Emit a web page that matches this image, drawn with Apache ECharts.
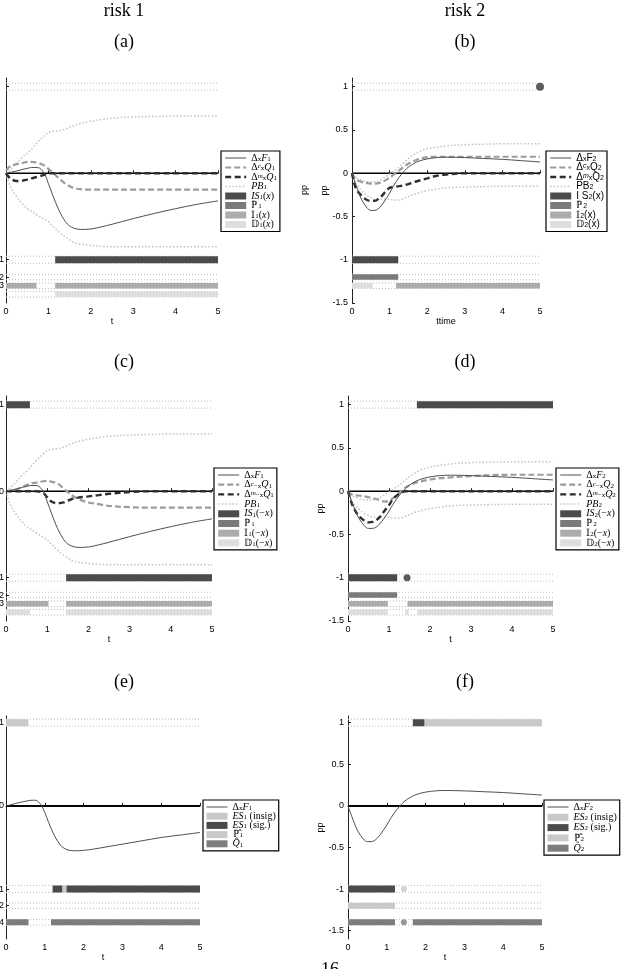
<!DOCTYPE html>
<html>
<head>
<meta charset="utf-8">
<script src="https://cdn.jsdelivr.net/npm/echarts@6/dist/echarts.min.js"></script>
<style>
  html, body { margin: 0; padding: 0; background: #fff; }
  #main { width: 629px; height: 969px; }
</style>
</head>
<body>
<div id="main"></div>
<script>
// ---- time grid shared by every response curve
const T = [0, 0.1, 0.25, 0.4, 0.5, 0.6, 0.75, 0.9, 1, 1.1, 1.25, 1.4, 1.5, 1.6, 1.75, 2, 2.25, 2.5, 3, 3.5, 4, 4.5, 5];

// risk 1 curves
const F1     = [0, 0.01, 0.025, 0.045, 0.055, 0.066, 0.065, 0.0, -0.12, -0.25, -0.43, -0.56, -0.61, -0.635, -0.65, -0.645, -0.62, -0.59, -0.525, -0.465, -0.41, -0.36, -0.32];
const F1_E   = [0, 0.01, 0.03, 0.045, 0.055, 0.065, 0.068, 0.015, -0.08, -0.2, -0.36, -0.47, -0.51, -0.53, -0.54, -0.535, -0.52, -0.5, -0.46, -0.42, -0.38, -0.35, -0.32];
const Q1C_A  = [0.03, 0.08, 0.105, 0.12, 0.13, 0.13, 0.12, 0.09, 0.05, 0.01, -0.06, -0.12, -0.15, -0.17, -0.185, -0.19, -0.19, -0.19, -0.19, -0.19, -0.19, -0.19, -0.19];
const Q1M_A  = [0, -0.06, -0.09, -0.085, -0.075, -0.06, -0.04, -0.02, -0.005, 0, 0, 0, 0, 0, 0, 0, 0, 0, 0, 0, 0, 0, 0];
const Q1C_C  = [0, 0.005, 0.02, 0.05, 0.07, 0.09, 0.1, 0.115, 0.12, 0.11, 0.09, 0.03, -0.01, -0.05, -0.09, -0.13, -0.15, -0.17, -0.185, -0.19, -0.19, -0.19, -0.19];
const Q1M_C  = [0, 0, 0, 0, 0, 0, 0, -0.02, -0.07, -0.12, -0.14, -0.13, -0.11, -0.09, -0.075, -0.06, -0.045, -0.03, -0.01, 0, 0, 0, 0];
const PB1_UP = [0, 0.04, 0.11, 0.19, 0.23, 0.28, 0.36, 0.43, 0.47, 0.485, 0.49, 0.51, 0.53, 0.55, 0.575, 0.6, 0.62, 0.635, 0.65, 0.655, 0.66, 0.66, 0.66];
const PB1_LO = [0, -0.15, -0.27, -0.36, -0.41, -0.44, -0.49, -0.53, -0.56, -0.61, -0.68, -0.74, -0.77, -0.8, -0.82, -0.835, -0.845, -0.85, -0.85, -0.85, -0.85, -0.85, -0.85];

// risk 2 curves
const F2     = [0, -0.13, -0.3, -0.4, -0.43, -0.43, -0.39, -0.3, -0.23, -0.15, -0.05, 0.03, 0.07, 0.1, 0.135, 0.165, 0.18, 0.185, 0.18, 0.17, 0.16, 0.145, 0.13];
const Q2C_B  = [0, -0.07, -0.1, -0.115, -0.12, -0.12, -0.11, -0.08, -0.05, -0.02, 0.03, 0.08, 0.11, 0.13, 0.16, 0.185, 0.19, 0.19, 0.19, 0.19, 0.19, 0.19, 0.19];
const Q2M_B  = [0, -0.17, -0.26, -0.31, -0.32, -0.32, -0.28, -0.21, -0.17, -0.16, -0.15, -0.14, -0.125, -0.11, -0.09, -0.06, -0.03, -0.015, 0, 0, 0, 0, 0];
const Q2C_D  = [0, -0.04, -0.05, -0.06, -0.07, -0.08, -0.1, -0.12, -0.11, -0.08, -0.02, 0.04, 0.07, 0.09, 0.11, 0.135, 0.15, 0.16, 0.175, 0.185, 0.19, 0.19, 0.19];
const Q2M_D  = [0, -0.15, -0.28, -0.34, -0.36, -0.355, -0.31, -0.22, -0.16, -0.09, -0.03, 0, 0, 0, 0, 0, 0, 0, 0, 0, 0, 0, 0];
const PB2_UP = [0, -0.05, -0.08, -0.1, -0.1, -0.1, -0.08, -0.04, -0.01, 0.02, 0.07, 0.13, 0.17, 0.2, 0.24, 0.28, 0.3, 0.315, 0.33, 0.335, 0.34, 0.34, 0.34];
const PB2_LO = [0, -0.12, -0.2, -0.26, -0.28, -0.3, -0.3, -0.3, -0.3, -0.31, -0.31, -0.29, -0.27, -0.25, -0.23, -0.2, -0.185, -0.17, -0.16, -0.155, -0.15, -0.15, -0.15];

// indicator segments: [row, from t, to t]
const A_IS = [[-1, 1.16, 5]];
const A_P  = [];
const A_I  = [[-1.3, 0, 0.72], [-1.3, 1.16, 5]];
const A_D  = [[-1.4, 1.16, 5]];
const B_IS = [[-1, 0, 1.23]];
const B_P  = [[-1.2, 0, 1.23]];
const B_I  = [[-1.3, 1.17, 5]];
const B_D  = [[-1.3, 0, 0.55]];
const B_DOT = [[5, 1]];
const C_IS = [[1, 0, 0.58], [-1, 1.46, 5]];
const C_P  = [];
const C_I  = [[-1.3, 0, 1.03], [-1.3, 1.46, 5]];
const C_D  = [[-1.4, 0, 0.58], [-1.4, 1.46, 5]];
const D_IS = [[1, 1.68, 5], [-1, 0, 1.2]];
const D_P  = [[-1.2, 0, 1.2]];
const D_I  = [[-1.3, 0, 0.97], [-1.3, 1.45, 5]];
const D_D  = [[-1.4, 0, 0.97], [-1.4, 1.4, 1.48], [-1.4, 1.69, 5]];
const D_DOT = [[1.44, -1]];
const E_INS = [[1, 0, 0.58], [-1, 1.45, 1.56]];
const E_SIG = [[-1, 1.2, 1.45], [-1, 1.56, 5]];
const E_PH  = [];
const E_QH  = [[-1.4, 0, 0.58], [-1.4, 1.16, 5]];
const F_INS = [[1, 1.97, 5]];
const F_SIG = [[1, 1.67, 1.97], [-1, 0, 1.21]];
const F_PH  = [[-1.2, 0, 1.21]];
const F_QH  = [[-1.4, 0, 1.21], [-1.4, 1.67, 5]];
const F_DOT_ES = [[1.44, -1]];
const F_DOT_QH = [[1.44, -1.4]];

// indicator rows (dotted lanes) per panel
const ROWS_A = [1, -1, -1.2, -1.3, -1.4];
const ROWS_B = [1, -1, -1.2, -1.3];
const ROWS_C = [1, -1, -1.2, -1.3, -1.4];
const ROWS_D = [1, -1, -1.2, -1.3, -1.4];
const ROWS_E = [1, -1, -1.2, -1.4];
const ROWS_F = [1, -1, -1.2, -1.4];

// axis ticks
const X_TICKS = [0, 1, 2, 3, 4, 5];
const YT_A = [1, 0, -1, -1.2, -1.3, -1.4];
const YL_A = [-1, -1.2, -1.3, -1.4];
const YT_C = [1, 0, -1, -1.2, -1.3, -1.4];
const YT_E = [1, 0, -1, -1.2, -1.4];
const YT_R = [1, 0.5, 0, -0.5, -1, -1.5];

// ---- styling
const COL_DARK = '#4b4b4b', COL_P = '#7a7a7a', COL_I = '#acacac', COL_D = '#dedede';
const COL_INS = '#c9c9c9', COL_QH = '#7d7d7d';
const SANS = 'Liberation Sans', SERIF = 'Liberation Serif';

const GRIDS = [
  { left: 6,   top: 78,  width: 212, height: 225 },
  { left: 352, top: 78,  width: 188, height: 225 },
  { left: 6,   top: 396, width: 206, height: 225 },
  { left: 348, top: 396, width: 205, height: 225 },
  { left: 6,   top: 716, width: 194, height: 223 },
  { left: 348, top: 716, width: 194, height: 223 }
].map(g => Object.assign({ outerBoundsMode: 'none', containLabel: false }, g));
const YRANGE = [[-1.5, 1.1], [-1.5, 1.1], [-1.5, 1.1], [-1.5, 1.1], [-1.6, 1.08], [-1.6, 1.08]];
const pxPerUnit = g => GRIDS[g].height / (YRANGE[g][1] - YRANGE[g][0]);

function curve(g, name, ys, color, width, type, z) {
  return {
    type: 'line', name, xAxisIndex: g, yAxisIndex: g, data: T.map((t, i) => [t, ys[i]]),
    symbol: 'none', smooth: 0.35, color, lineStyle: { color, width, type }, z: z || 3, silent: true
  };
}
function bars(g, name, segs, color, width) {
  const data = [];
  segs.forEach(s => { data.push([s[1], s[0]], [s[2], s[0]], [s[2], '-']); });
  return {
    type: 'line', name, xAxisIndex: g, yAxisIndex: g, data, symbol: 'none', color,
    lineStyle: { color, width, cap: 'butt' }, z: 4, silent: true
  };
}
function lanes(g, rows) {
  const data = [];
  rows.forEach(r => {
    const h = (Math.abs(r) === 1 ? 3.5 : 2.75) / pxPerUnit(g);
    data.push([0, r + h], [5, r + h], [5, '-'], [0, r - h], [5, r - h], [5, '-']);
  });
  return {
    type: 'line', xAxisIndex: g, yAxisIndex: g, data, symbol: 'none',
    lineStyle: { color: '#bdbdbd', width: 1, type: [1, 2] }, z: 1, silent: true
  };
}
function zero(g) {
  return {
    type: 'line', xAxisIndex: g, yAxisIndex: g, data: [[X_TICKS[0], 0], [X_TICKS[X_TICKS.length - 1], 0]],
    symbol: 'none', lineStyle: { color: '#000', width: 1.6 }, z: 2, silent: true
  };
}
function dots(g, pts, color, size) {
  return {
    type: 'scatter', xAxisIndex: g, yAxisIndex: g, data: pts, symbolSize: size,
    itemStyle: { color }, z: 5, silent: true, clip: false
  };
}

const DASH_C = [6, 3], DASH_M = [6, 3.5], DOT = [1.5, 2];
function panelCurves(g, p, F, QC, QM, UP, LO) {
  return [
    zero(g),
    curve(g, p + 'F', F, '#4f4f4f', 1, 'solid', 6),
    curve(g, p + 'QC', QC, '#9c9c9c', 2.2, DASH_C, 5),
    curve(g, p + 'QM', QM, '#2e2e2e', 2.4, DASH_M, 5),
    curve(g, p + 'PB', UP, '#c2c2c2', 1.5, DOT, 3),
    curve(g, p + 'PBlo', LO, '#c2c2c2', 1.5, DOT, 3)
  ];
}

const series = [].concat(
  panelCurves(0, 'a', F1, Q1C_A, Q1M_A, PB1_UP, PB1_LO),
  [lanes(0, ROWS_A), bars(0, 'aIS', A_IS, COL_DARK, 7), bars(0, 'aP', A_P, COL_P, 5.5),
   bars(0, 'aI', A_I, COL_I, 5.5), bars(0, 'aD', A_D, COL_D, 5.5)],
  panelCurves(1, 'b', F2, Q2C_B, Q2M_B, PB2_UP, PB2_LO),
  [lanes(1, ROWS_B), bars(1, 'bIS', B_IS, COL_DARK, 7), bars(1, 'bP', B_P, COL_P, 5.5),
   bars(1, 'bI', B_I, COL_I, 5.5), bars(1, 'bD', B_D, COL_D, 5.5), dots(1, B_DOT, '#333', 8)],
  panelCurves(2, 'c', F1, Q1C_C, Q1M_C, PB1_UP, PB1_LO),
  [lanes(2, ROWS_C), bars(2, 'cIS', C_IS, COL_DARK, 7), bars(2, 'cP', C_P, COL_P, 5.5),
   bars(2, 'cI', C_I, COL_I, 5.5), bars(2, 'cD', C_D, COL_D, 5.5)],
  panelCurves(3, 'd', F2, Q2C_D, Q2M_D, PB2_UP, PB2_LO),
  [lanes(3, ROWS_D), bars(3, 'dIS', D_IS, COL_DARK, 7), bars(3, 'dP', D_P, COL_P, 5.5),
   bars(3, 'dI', D_I, COL_I, 5.5), bars(3, 'dD', D_D, COL_D, 5.5), dots(3, D_DOT, '#333', 7)],
  [zero(4), curve(4, 'eF', F1_E, '#4f4f4f', 1, 'solid', 6), lanes(4, ROWS_E),
   bars(4, 'eINS', E_INS, COL_INS, 7), bars(4, 'eSIG', E_SIG, COL_DARK, 7),
   bars(4, 'ePH', E_PH, COL_INS, 5.5), bars(4, 'eQH', E_QH, COL_QH, 6)],
  [zero(5), curve(5, 'fF', F2, '#4f4f4f', 1, 'solid', 6), lanes(5, ROWS_F),
   bars(5, 'fINS', F_INS, COL_INS, 7), bars(5, 'fSIG', F_SIG, COL_DARK, 7),
   bars(5, 'fPH', F_PH, COL_INS, 6), bars(5, 'fQH', F_QH, COL_QH, 6),
   dots(5, F_DOT_ES, COL_INS, 6), dots(5, F_DOT_QH, COL_QH, 6)]
);

// ---- legend labels (rich text)
function rich(fam) {
  return {
    i: { fontFamily: fam, fontStyle: 'italic', fontSize: 10, lineHeight: 9, color: '#000' },
    r: { fontFamily: fam, fontSize: 10, lineHeight: 9, color: '#000' },
    s: { fontFamily: fam, fontSize: 7, lineHeight: 5, verticalAlign: 'bottom', color: '#000' },
    p: { fontFamily: fam, fontStyle: 'italic', fontSize: 7, lineHeight: 5, verticalAlign: 'top', color: '#000' }
  };
}
const LABELS = {
  aF: '{r|Δ}{s|x}{i|F}{s|1}', aQC: '{r|Δ}{p|c}{s|x}{i|Q}{s|1}', aQM: '{r|Δ}{p|m}{s|x}{i|Q}{s|1}', aPB: '{i|PB}{s|1}',
  aIS: '{i|IS}{s|1}{r|(}{i|x}{r|)}', aP: '{r|ℙ}{s|1}', aI: '{r|𝕀}{s|1}{r|(}{i|x}{r|)}', aD: '{r|𝔻}{s|1}{r|(}{i|x}{r|)}',
  bF: '{r|Δ}{s|x}{r|F}{s|2}', bQC: '{r|Δ}{p|c}{s|x}{r|Q}{s|2}', bQM: '{r|Δ}{p|m}{s|x}{r|Q}{s|2}', bPB: '{r|PB}{s|2}',
  bIS: '{r|I S}{s|2}{r|(x)}', bP: '{r|ℙ}{s|2}', bI: '{r|𝕀}{s|2}{r|(x)}', bD: '{r|𝔻}{s|2}{r|(x)}',
  cF: '{r|Δ}{s|x}{i|F}{s|1}', cQC: '{r|Δ}{p|c}{s|−x}{i|Q}{s|1}', cQM: '{r|Δ}{p|m}{s|−x}{i|Q}{s|1}', cPB: '{i|PB}{s|1}',
  cIS: '{i|IS}{s|1}{r|(−}{i|x}{r|)}', cP: '{r|ℙ}{s|1}', cI: '{r|𝕀}{s|1}{r|(−}{i|x}{r|)}', cD: '{r|𝔻}{s|1}{r|(−}{i|x}{r|)}',
  dF: '{r|Δ}{s|x}{i|F}{s|2}', dQC: '{r|Δ}{p|c}{s|−x}{i|Q}{s|2}', dQM: '{r|Δ}{p|m}{s|−x}{i|Q}{s|2}', dPB: '{i|PB}{s|2}',
  dIS: '{i|IS}{s|2}{r|(−}{i|x}{r|)}', dP: '{r|ℙ}{s|2}', dI: '{r|𝕀}{s|2}{r|(−}{i|x}{r|)}', dD: '{r|𝔻}{s|2}{r|(−}{i|x}{r|)}',
  eF: '{r|Δ}{s|x}{i|F}{s|1}', eINS: '{i|ES}{s|1}{r| (insig)}', eSIG: '{i|ES}{s|1}{r| (sig.)}', ePH: '{r|ℙ̂}{s|1}', eQH: '{i|Q̂}{s|1}',
  fF: '{r|Δ}{s|x}{i|F}{s|2}', fINS: '{i|ES}{s|2}{r| (insig)}', fSIG: '{i|ES}{s|2}{r| (sig.)}', fPH: '{r|ℙ̂}{s|2}', fQH: '{i|Q̂}{s|2}'
};
const BAR_KEYS = ['IS', 'P', 'I', 'D', 'INS', 'SIG', 'PH', 'QH'];
function legend(p, keys, left, top, fam, gap) {
  return {
    orient: 'vertical', left, top, itemWidth: 21, itemHeight: 7, itemGap: gap, padding: [2, 3, 2, 3],
    borderColor: '#000', borderWidth: 1.2, borderRadius: 0, backgroundColor: '#fff', selectedMode: false,
    lineStyle: { width: 'inherit' }, itemStyle: { borderWidth: 0 },
    data: keys.map(k => BAR_KEYS.indexOf(k) >= 0
      ? { name: p + k, icon: 'rect' }
      : { name: p + k, itemStyle: { opacity: 0 } }),
    formatter: n => LABELS[n], textStyle: { rich: rich(fam), color: '#000' }
  };
}
const CURVE_KEYS = ['F', 'QC', 'QM', 'PB', 'IS', 'P', 'I', 'D'];
const ES_KEYS = ['F', 'INS', 'SIG', 'PH', 'QH'];

// ---- axes
const axisFont = { fontFamily: SANS, fontSize: 9, color: '#000' };
const xAxes = GRIDS.map((g, i) => ({
  type: 'value', gridIndex: i, min: 0, max: 5, interval: 1,
  name: i === 1 ? 'ttime' : 't', nameLocation: 'middle', nameGap: 11, nameTextStyle: axisFont,
  axisLine: { lineStyle: { color: '#222', width: 1 } },
  axisTick: { inside: true, length: 3, lineStyle: { color: '#222' } },
  axisLabel: Object.assign({ margin: 4 }, axisFont), splitLine: { show: false }
}));
const Y_TICK_SETS = [YT_A, YT_R, YT_C, YT_R, YT_E, YT_R];
const Y_LABEL_SETS = [YL_A, YT_R, YT_C, YT_R, YT_E, YT_R];
const yAxes = GRIDS.map((g, i) => ({
  type: 'value', gridIndex: i, min: YRANGE[i][0], max: YRANGE[i][1],
  name: i % 2 === 1 ? 'pp' : '', nameLocation: 'middle', nameGap: 22, nameRotate: 90, nameTextStyle: axisFont,
  axisLine: { show: true, lineStyle: { color: '#222', width: 1 } },
  axisTick: { inside: true, length: 3, lineStyle: { color: '#222' }, customValues: Y_TICK_SETS[i] },
  axisLabel: Object.assign({ margin: i % 2 === 1 ? 4 : 2, customValues: Y_LABEL_SETS[i],
    formatter: v => String(Math.round(v * 10) / 10) }, axisFont),
  splitLine: { show: false }
}));

// ---- free text
const serifText = (x, y, text, size) => ({
  type: 'text', x, y, silent: true,
  style: { text, font: size + 'px "' + SERIF + '"', fill: '#000', align: 'center', verticalAlign: 'middle' }
});
const graphic = [
  serifText(124, 11, 'risk 1', 18), serifText(465, 11, 'risk 2', 18),
  serifText(124, 42, '(a)', 18), serifText(465, 42, '(b)', 18),
  serifText(124, 362, '(c)', 18), serifText(465, 362, '(d)', 18),
  serifText(124, 682, '(e)', 18), serifText(465, 682, '(f)', 18),
  serifText(330, 970, '16', 18),
  { type: 'text', x: 305, y: 190, rotation: Math.PI / 2, silent: true,
    style: { text: 'pp', font: '9px "' + SANS + '"', fill: '#000', align: 'center', verticalAlign: 'middle' } }
];

const chart = echarts.init(document.getElementById('main'));
chart.setOption({
  animation: false,
  backgroundColor: '#fff',
  grid: GRIDS,
  xAxis: xAxes,
  yAxis: yAxes,
  legend: [
    legend('a', CURVE_KEYS, 221, 151, SERIF, -0.5),
    legend('b', CURVE_KEYS, 546, 151, SANS, -0.5),
    legend('c', CURVE_KEYS, 214, 468, SERIF, -0.3),
    legend('d', CURVE_KEYS, 556, 468, SERIF, -0.3),
    legend('e', ES_KEYS, 203, 800, SERIF, -0.8),
    legend('f', ES_KEYS, 544, 800, SERIF, 0.3)
  ],
  graphic,
  series
});
</script>
</body>
</html>
